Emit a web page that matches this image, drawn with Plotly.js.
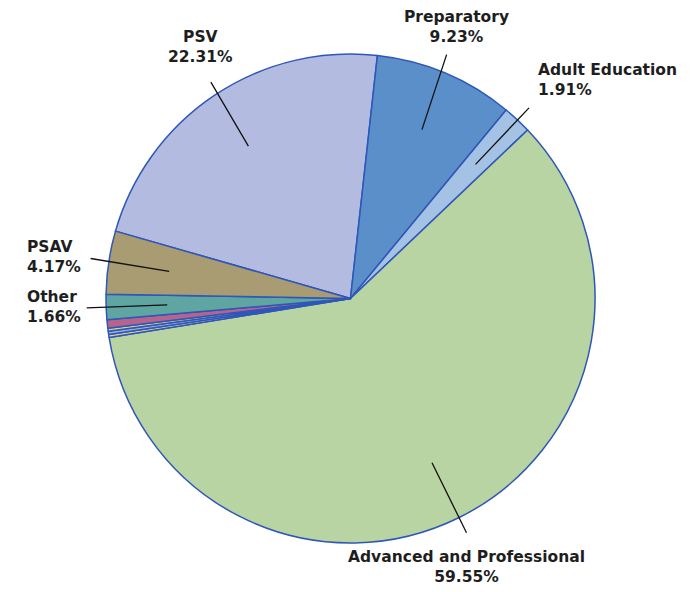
<!DOCTYPE html>
<html>
<head>
<meta charset="utf-8">
<script src="https://cdn.plot.ly/plotly-3.0.1.min.js"></script>
<style>html,body{margin:0;padding:0;background:#fff;}#chart{width:690px;height:592px;}</style>
</head>
<body>
<div id="chart"></div>
<script>
// ---- data ----
const categories = ["PSV", "Preparatory", "Adult Education", "Advanced and Professional",
                    "Minor A", "Minor B", "Minor C", "Minor D", "Other", "PSAV"];
const values = [22.31, 9.23, 1.91, 59.55, 0.21, 0.20, 0.20, 0.56, 1.66, 4.17];
const labelText = ["22.31%", "9.23%", "1.91%", "59.55%", "", "", "", "", "1.66%", "4.17%"];
const showLabel = [true, true, true, true, false, false, false, false, true, true];

// ---- style ----
const W = 690, H = 592;
const cx = 350.5, cy = 298.5, R = 244.5;
const rotation = 286;
const colors = ["#b3bce0", "#5b8fc9", "#a3c2e4", "#b9d4a3",
                "#dccf86", "#8fb0df", "#dccf86", "#b5658d", "#5fa6a2", "#a99b72"];
// label placement (px): [x, y, xanchor, align, tailDx, tailDy]
const labelPlace = {
  "PSV": [200, 47, "center", "center", -38, -65],
  "Preparatory": [456.5, 27, "center", "center", 25, -76],
  "Adult Education": [536, 80, "left", "left", 54, -57],
  "Advanced and Professional": [466.5, 567, "center", "center", 35, 71],
  "PSAV": [25, 257, "left", "left", -79, -13],
  "Other": [25, 307, "left", "left", -81, 3]
};
const font = {family: "DejaVu Sans, Verdana, sans-serif", size: 15.5, color: "#1e1e1e", weight: "bold"};

const total = values.reduce((a, b) => a + b, 0);
const annotations = [];
let startAng = rotation;
values.forEach((v, i) => {
  const span = v / total * 360;
  const mid = (startAng + span / 2) * Math.PI / 180;
  startAng += span;
  if (!showLabel[i]) return;
  const p = labelPlace[categories[i]];
  const hx = cx + 0.75 * R * Math.sin(mid);
  const hy = cy - 0.75 * R * Math.cos(mid);
  annotations.push({
    xref: "paper", yref: "paper", x: p[0] / W, y: 1 - p[1] / H,
    xanchor: p[2], yanchor: "middle", align: p[3], showarrow: false,
    text: categories[i] + "<br>" + labelText[i], font: font
  });
  annotations.push({
    xref: "paper", yref: "paper", x: hx / W, y: 1 - hy / H,
    text: " ", font: {size: 1}, borderpad: 0,
    showarrow: true, arrowhead: 0, arrowwidth: 1.3, arrowcolor: "#111",
    ax: p[4], ay: p[5]
  });
});

const trace = {
  type: "pie",
  labels: categories,
  values: values,
  sort: false,
  direction: "clockwise",
  rotation: rotation,
  textinfo: "none",
  hoverinfo: "none",
  marker: {colors: colors, line: {color: "#2f56b8", width: 1.5}},
  domain: {x: [(cx - R) / W, (cx + R) / W], y: [1 - (cy + R) / H, 1 - (cy - R) / H]},
  showlegend: false
};

Plotly.newPlot("chart", [trace], {
  width: W, height: H,
  margin: {l: 0, r: 0, t: 0, b: 0},
  paper_bgcolor: "#fff",
  showlegend: false,
  annotations: annotations
}, {staticPlot: true});
</script>
</body>
</html>
